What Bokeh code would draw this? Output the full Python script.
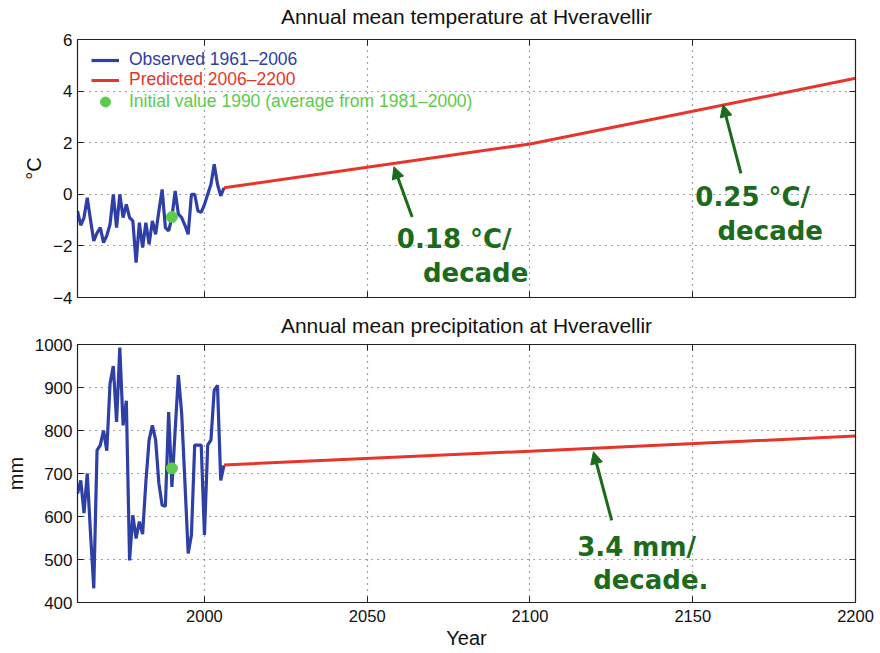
from bokeh.plotting import figure
from bokeh.layouts import column
from bokeh.models import (LinearAxis, FixedTicker, Range1d, Legend, LegendItem,
                          Label, Arrow, NormalHead)
from bokeh.embed import file_html
from bokeh.resources import INLINE

# ---------------- data ----------------
obs_years = list(range(1961, 2007))
obs_temp = [-0.65, -1.2, -0.9, -0.13, -1.0, -1.81, -1.5, -1.29, -1.87, -1.6,
            -1.16, 0.0, -1.29, 0.0, -0.9, -0.39, -0.9, -1.03, -2.65, -1.1,
            -2.06, -1.1, -1.94, -1.03, -1.55, -0.65, 0.19, -1.29, -1.42, -0.9,
            0.13, -0.77, -0.9, -1.2, -1.55, 0.0, 0.0, -0.65, -0.7, -0.4,
            0.0, 0.39, 1.16, 0.39, -0.06, 0.25]
obs_precip = [653, 684, 608, 700, 560, 433, 754, 766, 800, 753,
              909, 950, 820, 993, 812, 869, 498, 603, 549, 588,
              559, 680, 778, 812, 778, 677, 626, 624, 843, 669,
              800, 929, 840, 680, 514, 557, 766, 766, 766, 557,
              766, 778, 894, 905, 684, 719]

pred_temp_years = [2006, 2050, 2100, 2150, 2200]
pred_temp = [0.25, 1.05, 1.95, 3.22, 4.5]
pred_precip_years = [2006, 2100, 2200]
pred_precip = [720, 752, 787]

init_year = [1990]
init_temp = [-0.88]
init_precip = [712]

x_ticks = [2000, 2050, 2100, 2150, 2200]
temp_ticks = [-4, -2, 0, 2, 4, 6]
precip_ticks = [400, 500, 600, 700, 800, 900, 1000]

legend_labels = ["Observed 1961\u20132006", "Predicted 2006\u20132200",
                 "Initial value 1990 (average from 1981\u20132000)"]
titles = ["Annual mean temperature at Hveravellir",
          "Annual mean precipitation at Hveravellir"]

BLUE = "#2e3fa6"
RED = "#e8352b"
GREEN = "#5ccb4a"
DKGREEN = "#1b6b1b"

TICK_FONT = "Liberation Sans"


def style_axis(ax, show_labels=True, size="17px", standoff=5):
    ax.axis_line_color = "#222222"
    ax.axis_line_width = 1.2
    ax.major_tick_in = 6
    ax.major_tick_out = 0
    ax.minor_tick_in = 0
    ax.minor_tick_out = 0
    ax.major_tick_line_color = "#222222"
    ax.major_label_text_font = TICK_FONT
    if show_labels:
        ax.major_label_text_color = "#111111"
        ax.major_label_text_font_size = size
        ax.major_label_standoff = standoff
    else:
        ax.major_label_text_color = None
        ax.major_label_text_font_size = "1px"
        ax.major_label_standoff = 0
    ax.axis_label_text_font = TICK_FONT
    ax.axis_label_text_font_size = "20px"
    ax.axis_label_text_font_style = "normal"
    ax.axis_label_text_color = "#111111"


def make_fig(height, btop, bbot, yr, yticks, title, title_gap, ylabel, xlabels):
    p = figure(width=880, height=height, x_range=Range1d(1961, 2200),
               y_range=Range1d(*yr), output_backend="svg", toolbar_location=None,
               min_border_left=77, min_border_right=25, min_border_top=btop,
               min_border_bottom=bbot)
    p.xaxis.ticker = FixedTicker(ticks=x_ticks)
    p.yaxis.ticker = FixedTicker(ticks=yticks)
    style_axis(p.xaxis[0], xlabels, "16.5px", 7)
    style_axis(p.yaxis[0], True, "17px", 5)
    p.yaxis.axis_label = ylabel
    if xlabels:
        p.xaxis.axis_label = "Year"
        p.xaxis.axis_label_standoff = 2
    ra = LinearAxis(ticker=FixedTicker(ticks=yticks))
    style_axis(ra, False)
    p.add_layout(ra, "right")
    # top axis: inward ticks, and the panel title as its label
    ta = LinearAxis(ticker=FixedTicker(ticks=x_ticks))
    style_axis(ta, False)
    ta.axis_label = title
    ta.axis_label_text_font_size = "21px"
    ta.axis_label_standoff = title_gap
    p.add_layout(ta, "above")
    p.xgrid.ticker = FixedTicker(ticks=x_ticks)
    p.ygrid.ticker = FixedTicker(ticks=yticks)
    p.grid.grid_line_color = "#444444"
    p.grid.grid_line_dash = "1 5"
    p.grid.grid_line_width = 1.2
    p.outline_line_color = "#222222"
    p.background_fill_color = "white"
    p.border_fill_color = "white"
    return p


# ---------------- top: temperature ----------------
p1 = make_fig(310, 39, 13, (-4, 6), temp_ticks, titles[0], 12, "\u00b0C", False)
r_obs = p1.line(obs_years, obs_temp, line_color=BLUE, line_width=3.2)
r_pred = p1.line(pred_temp_years, pred_temp, line_color=RED, line_width=3)
r_init = p1.scatter(init_year, init_temp, size=11, fill_color=GREEN,
                    line_color=GREEN, marker="circle")

leg_specs = [(r_obs, BLUE, 18, 227), (r_pred, RED, 18, 207),
             (r_init, GREEN, 25, 183)]
for (r, col, gh, ly), lab in zip(leg_specs, legend_labels):
    lg = Legend(items=[LegendItem(label=lab, renderers=[r])],
                location=(14, ly), label_text_color=col,
                label_text_font=TICK_FONT, label_text_font_size="17.5px",
                glyph_width=28, glyph_height=gh, label_height=18,
                label_standoff=10, padding=0, margin=0, spacing=0,
                background_fill_alpha=0, border_line_alpha=0)
    p1.add_layout(lg)

ann_font = "DejaVu Sans"
for (x, y, t) in [(2059.1, -1.74, "0.18 \u00b0C/"), (2067.1, -3.05, "decade"),
                  (2150.8, -0.12, "0.25 \u00b0C/"), (2157.6, -1.42, "decade")]:
    p1.add_layout(Label(x=x, y=y, text=t, text_font=ann_font,
                        text_font_size="26px", text_font_style="bold",
                        text_color=DKGREEN, text_baseline="alphabetic"))
for (xs, ys, xe, ye) in [(2063.8, -0.88, 2058.2, 1.07),
                         (2164.8, 0.81, 2159.3, 3.47)]:
    p1.add_layout(Arrow(end=NormalHead(size=12, fill_color=DKGREEN,
                                       line_color=DKGREEN),
                        x_start=xs, y_start=ys, x_end=xe, y_end=ye,
                        line_color=DKGREEN, line_width=3))

# ---------------- bottom: precipitation ----------------
p2 = make_fig(343, 34, 51, (400, 1000), precip_ticks, titles[1], 8, "mm", True)
p2.line(obs_years, obs_precip, line_color=BLUE, line_width=3.2)
p2.line(pred_precip_years, pred_precip, line_color=RED, line_width=3)
p2.scatter(init_year, init_precip, size=11, fill_color=GREEN,
           line_color=GREEN, marker="circle")

for (x, y, t) in [(2114.5, 530, "3.4 mm/"), (2119.4, 452, "decade.")]:
    p2.add_layout(Label(x=x, y=y, text=t, text_font=ann_font,
                        text_font_size="26px", text_font_style="bold",
                        text_color=DKGREEN, text_baseline="alphabetic"))
p2.add_layout(Arrow(end=NormalHead(size=12, fill_color=DKGREEN,
                                   line_color=DKGREEN),
                    x_start=2125.1, y_start=591, x_end=2119.5, y_end=750.6,
                    line_color=DKGREEN, line_width=3))

layout = column(p1, p2, spacing=0)
open("out.html", "w").write(file_html(layout, INLINE))
